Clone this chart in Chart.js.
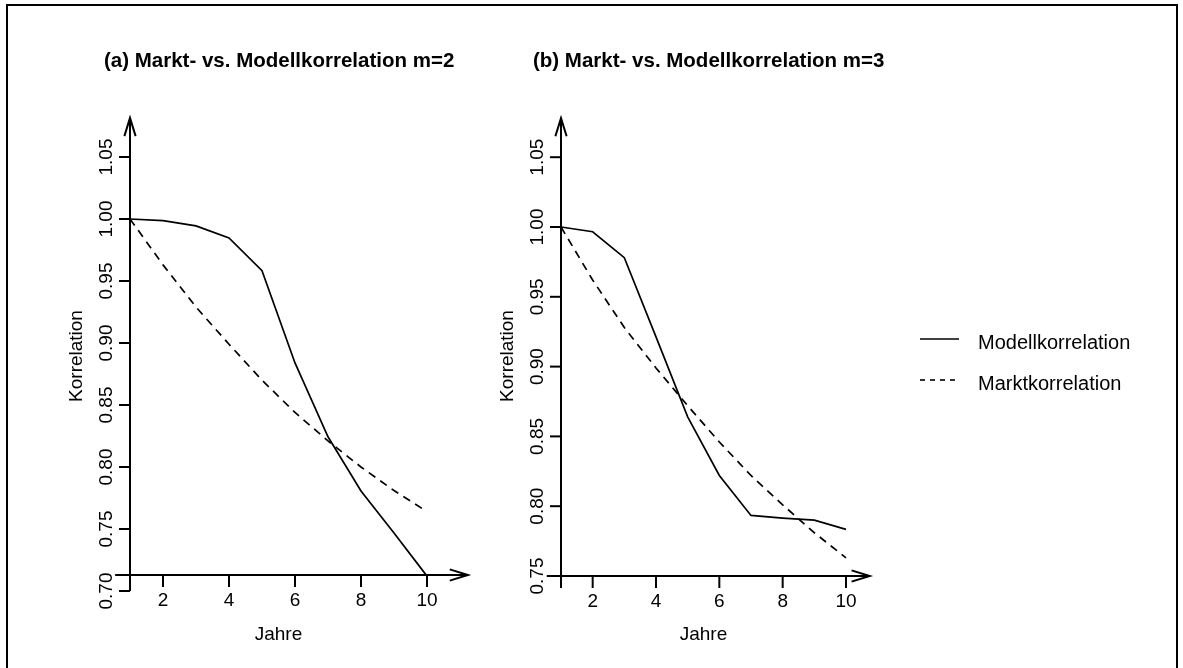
<!DOCTYPE html>
<html>
<head>
<meta charset="utf-8">
<script src="https://cdn.jsdelivr.net/npm/chart.js@4.4.1/dist/chart.umd.min.js"></script>
<style>
  html, body { margin: 0; padding: 0; background: #fff; }
  #wrap { position: relative; width: 1183px; height: 668px; overflow: hidden; }
  #wrap canvas { position: absolute; left: 0; top: 0; }
  #frame { position: absolute; left: 6px; top: 4px; width: 1168px; height: 680px; border: 2.5px solid #000; }
</style>
</head>
<body>
<div id="wrap">
  <div id="frame"></div>
  <canvas id="chartA" width="1183" height="668"></canvas>
  <canvas id="chartB" width="1183" height="668"></canvas>
</div>
<script>
// data
const jahre = [1, 2, 3, 4, 5, 6, 7, 8, 9, 10];
const modellM2 = [1.000, 0.9987, 0.9944, 0.9847, 0.9583, 0.8839, 0.8244, 0.7806, 0.7468, 0.712];
const marktM2  = [1.000, 0.963, 0.929, 0.899, 0.870, 0.844, 0.821, 0.800, 0.781, 0.764];
const modellM3 = [1.000, 0.9966, 0.978, 0.9213, 0.864, 0.822, 0.7934, 0.7915, 0.790, 0.7834];
const marktM3  = [1.000, 0.962, 0.928, 0.899, 0.872, 0.846, 0.822, 0.801, 0.781, 0.763];

const xTicks = [2, 4, 6, 8, 10];
const yTicksA = [0.70, 0.75, 0.80, 0.85, 0.90, 0.95, 1.00, 1.05];
const yTicksB = [0.75, 0.80, 0.85, 0.90, 0.95, 1.00, 1.05];

const titles = ["(a) Markt- vs. Modellkorrelation m=2", "(b) Markt- vs. Modellkorrelation m=3"];
const serienNamen = ["Modellkorrelation", "Marktkorrelation"];

const FONT = '"Liberation Sans", Arial, Helvetica, sans-serif';
const W = 1183, H = 668;

// padding so that two known values land on two known pixels
function padding(x0, px0, x1, px1, xmin, xmax, y0, py0, y1, py1, ymin, ymax) {
  const sx = (px1 - px0) / (x1 - x0);
  const sy = (py1 - py0) / (y1 - y0);
  return {
    left: px0 + (xmin - x0) * sx,
    right: W - (px0 + (xmax - x0) * sx),
    top: py0 + (ymax - y0) * sy,
    bottom: H - (py0 + (ymin - y0) * sy)
  };
}

function pts(ys) { return jahre.map((x, i) => ({ x: x, y: ys[i] })); }

function arrow(ctx, x0, y0, x1, y1) {
  const a = Math.atan2(y1 - y0, x1 - x0), len = 19, sp = 0.30;
  ctx.beginPath();
  ctx.moveTo(x0, y0); ctx.lineTo(x1, y1);
  ctx.moveTo(x1 - len * Math.cos(a - sp), y1 - len * Math.sin(a - sp));
  ctx.lineTo(x1, y1);
  ctx.lineTo(x1 - len * Math.cos(a + sp), y1 - len * Math.sin(a + sp));
  ctx.stroke();
}

const rAxes = {
  id: 'rAxes',
  afterDatasetsDraw(chart, args, o) {
    const ctx = chart.ctx, xs = chart.scales.x, ys = chart.scales.y;
    ctx.save();
    ctx.strokeStyle = '#000'; ctx.fillStyle = '#000'; ctx.lineWidth = 2;
    ctx.lineCap = 'butt';
    const ax = xs.getPixelForValue(1);
    const xAxisPx = ys.getPixelForValue(o.xAxisAt);
    // y axis with arrow
    arrow(ctx, ax, ys.getPixelForValue(o.yBottom), ax, ys.getPixelForValue(o.yTop));
    // x axis with arrow
    arrow(ctx, xs.getPixelForValue(o.xStart), xAxisPx, xs.getPixelForValue(o.xEnd), xAxisPx);
    // y ticks
    ctx.font = '19px ' + FONT;
    ctx.textAlign = 'center'; ctx.textBaseline = 'middle';
    o.yTicks.forEach(v => {
      const py = ys.getPixelForValue(v);
      ctx.beginPath(); ctx.moveTo(ax, py); ctx.lineTo(ax - 11, py); ctx.stroke();
      ctx.save();
      ctx.translate(ax - 23, py); ctx.rotate(-Math.PI / 2);
      ctx.fillText(v.toFixed(2), 0, 0);
      ctx.restore();
    });
    // x ticks
    xTicks.forEach(v => {
      const px = xs.getPixelForValue(v);
      ctx.beginPath(); ctx.moveTo(px, xAxisPx); ctx.lineTo(px, xAxisPx + 12); ctx.stroke();
      ctx.fillText(String(v), px, xAxisPx + 26);
    });
    // axis titles
    ctx.fillText('Jahre', xs.getPixelForValue(5.5), 635);
    ctx.save();
    ctx.translate(ax - 53, 356); ctx.rotate(-Math.PI / 2);
    ctx.fillText('Korrelation', 0, 0);
    ctx.restore();
    // main title
    ctx.font = 'bold 20.5px ' + FONT;
    ctx.textAlign = 'left'; ctx.textBaseline = 'alphabetic';
    ctx.fillText(o.title, o.titleX, 67);
    // legend
    if (o.legend) {
      chart.data.datasets.forEach((ds, i) => {
        const ly = 339 + i * 41;
        ctx.save();
        ctx.lineWidth = 1.6;
        ctx.setLineDash(i === 1 ? [5, 5] : []);
        ctx.beginPath(); ctx.moveTo(920, ly); ctx.lineTo(959, ly); ctx.stroke();
        ctx.restore();
        ctx.font = '20px ' + FONT;
        ctx.textBaseline = 'middle';
        ctx.fillText(ds.label, 978, ly + 4);
      });
    }
    ctx.restore();
  }
};

function makeChart(id, modell, markt, scaleOpts, pad, axOpts) {
  return new Chart(document.getElementById(id), {
    type: 'line',
    data: {
      datasets: [
        { label: serienNamen[0], data: pts(modell), borderColor: '#000', borderWidth: 1.7,
          pointRadius: 0, tension: 0, fill: false },
        { label: serienNamen[1], data: pts(markt), borderColor: '#000', borderWidth: 1.7,
          borderDash: [8, 6], pointRadius: 0, tension: 0, fill: false }
      ]
    },
    options: {
      responsive: false,
      animation: false,
      events: [],
      layout: { padding: pad },
      scales: {
        x: { type: 'linear', min: scaleOpts.xmin, max: scaleOpts.xmax, display: false },
        y: { type: 'linear', min: scaleOpts.ymin, max: scaleOpts.ymax, display: false }
      },
      plugins: { legend: { display: false }, tooltip: { enabled: false }, rAxes: axOpts }
    },
    plugins: [rAxes]
  });
}

// panel (a): x=1 at 130px, x=10 at 427px; y=1.00 at 219px, y=0.70 at 591px
makeChart('chartA', modellM2, marktM2,
  { xmin: 0.5, xmax: 11.5, ymin: 0.68, ymax: 1.10 },
  padding(1, 130, 10, 427, 0.5, 11.5, 1.00, 219, 0.70, 591, 0.68, 1.10),
  { yTicks: yTicksA, yBottom: 0.70, yTop: 1.0815, xAxisAt: 0.7129, xStart: 0.55, xEnd: 11.24,
    title: titles[0], titleX: 104, legend: false });

// panel (b): x=1 at 561px, x=10 at 846px; y=1.00 at 227px, y=0.75 at 576px
makeChart('chartB', modellM3, marktM3,
  { xmin: 0.5, xmax: 11.5, ymin: 0.73, ymax: 1.10 },
  padding(1, 561, 10, 846, 0.5, 11.5, 1.00, 227, 0.75, 576, 0.73, 1.10),
  { yTicks: yTicksB, yBottom: 0.7414, yTop: 1.078, xAxisAt: 0.75, xStart: 0.55, xEnd: 10.75,
    title: titles[1], titleX: 533, legend: true });
</script>
</body>
</html>
